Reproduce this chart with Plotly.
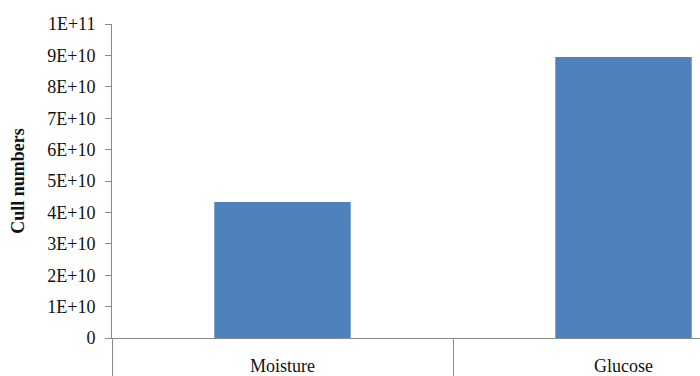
import plotly.graph_objects as go

categories = ["Moisture", "Glucose"]
values = [4.33e10, 8.95e10]
ytick_vals = [0, 1e10, 2e10, 3e10, 4e10, 5e10, 6e10, 7e10, 8e10, 9e10, 1e11]
ytick_text = ["0", "1E+10", "2E+10", "3E+10", "4E+10", "5E+10", "6E+10", "7E+10", "8E+10", "9E+10", "1E+11"]
xpos = list(range(len(categories)))
separators = [-0.5, 0.5, 1.5]

font = dict(family="Liberation Serif", size=18, color="#111111")

fig = go.Figure(go.Bar(x=xpos, y=values, width=0.4, marker=dict(color="#4f81bd", line=dict(width=0))))

fig.update_layout(
    width=700, height=376,
    margin=dict(l=112, r=0, t=24, b=38),
    paper_bgcolor="white", plot_bgcolor="white",
    showlegend=False,
    font=font,
)
fig.update_xaxes(
    range=[-0.5, -0.5 + 588 / 341],
    tickvals=xpos, ticktext=categories,
    ticks="", showgrid=False, zeroline=False,
    showline=True, linecolor="#8a8a8a", linewidth=1,
    ticklabelstandoff=11,
    minor=dict(tickvals=separators, ticks="outside", ticklen=38, tickcolor="#8a8a8a", tickwidth=1, showgrid=False),
    tickfont=font, automargin=False,
)
fig.update_yaxes(
    range=[0, 1e11],
    tickvals=ytick_vals, ticktext=ytick_text,
    ticks="outside", ticklen=6, tickcolor="#8a8a8a",
    ticklabelstandoff=6,
    showgrid=False, zeroline=False,
    showline=True, linecolor="#8a8a8a", linewidth=1,
    tickfont=font, automargin=False,
    title=dict(text="<b>Cull numbers</b>", font=font, standoff=17),
)
fig.write_html("out.html")
